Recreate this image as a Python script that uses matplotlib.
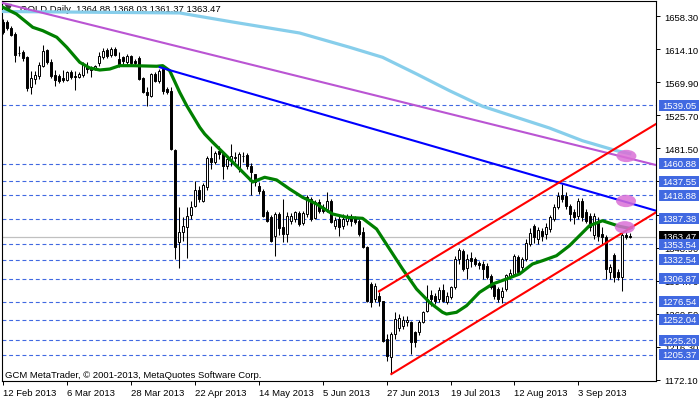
import matplotlib
matplotlib.use("Agg")
import matplotlib.pyplot as plt
import matplotlib.transforms as mtransforms
from matplotlib.patches import Ellipse, Rectangle

plt.rcParams['font.family'] = ['Liberation Sans', 'DejaVu Sans']

# daily OHLC, bar 0 = 12 Feb 2013
opens = [1650.6, 1650.6, 1642.6, 1634.6, 1609.2, 1610.5, 1603.8, 1563.7, 1574.4, 1578.4,
         1591.8, 1613.2, 1597.1, 1579.7, 1578.4, 1575.7, 1573.0, 1583.7, 1578.4, 1577.1,
         1579.7, 1591.8, 1589.1, 1589.1, 1595.8, 1603.8, 1613.2, 1606.5, 1614.5, 1601.1,
         1603.8, 1597.1, 1605.1, 1598.5, 1602.5, 1575.7, 1557.0, 1551.6, 1581.1, 1571.7,
         1587.7, 1561.0, 1558.3, 1479.4, 1356.3, 1369.7, 1376.4, 1392.4, 1404.5, 1425.9,
         1411.2, 1429.9, 1468.7, 1463.3, 1478.1, 1474.0, 1458.0, 1467.4, 1468.7, 1454.0,
         1471.4, 1472.7, 1458.0, 1447.3, 1431.2, 1424.6, 1396.4, 1389.8, 1364.3, 1393.8,
         1376.4, 1367.0, 1384.4, 1387.1, 1395.1, 1381.7, 1393.8, 1413.8, 1388.4, 1409.8,
         1403.1, 1400.5, 1411.2, 1377.7, 1387.1, 1377.7, 1384.4, 1389.8, 1388.4, 1384.4,
         1369.7, 1349.6, 1300.1, 1280.1, 1284.1, 1277.4, 1226.5, 1202.5, 1233.2, 1241.3,
         1243.9, 1249.3, 1249.3, 1235.9, 1235.9, 1249.3, 1264.0, 1285.4, 1284.1, 1280.1,
         1292.1, 1276.0, 1282.7, 1296.1, 1333.6, 1344.3, 1321.5, 1334.9, 1333.6, 1328.2,
         1326.9, 1324.2, 1310.8, 1298.8, 1293.4, 1282.7, 1293.4, 1309.5, 1313.5, 1336.3,
         1322.9, 1333.6, 1353.6, 1377.7, 1360.3, 1371.0, 1367.0, 1373.7, 1387.1, 1403.1,
         1419.2, 1417.8, 1404.5, 1396.4, 1391.1, 1411.2, 1396.4, 1391.1, 1365.7, 1384.4,
         1367.0, 1363.0, 1316.2, 1338.9, 1316.2, 1309.5, 1365.7, 1364.88]
highs = [1654.6, 1653.3, 1645.3, 1637.3, 1618.5, 1613.2, 1605.1, 1585.1, 1585.1, 1597.1,
         1619.9, 1614.5, 1601.1, 1586.4, 1581.1, 1586.4, 1585.1, 1586.4, 1585.1, 1583.7,
         1597.1, 1597.1, 1591.8, 1593.1, 1610.5, 1615.8, 1615.8, 1617.2, 1617.2, 1610.5,
         1605.1, 1607.8, 1606.5, 1601.1, 1605.1, 1577.1, 1563.7, 1582.4, 1583.7, 1587.7,
         1590.4, 1563.7, 1563.7, 1480.7, 1403.1, 1389.8, 1403.1, 1411.2, 1437.9, 1431.2,
         1435.3, 1471.4, 1484.7, 1478.1, 1484.7, 1476.7, 1471.4, 1487.4, 1476.7, 1476.7,
         1476.7, 1475.4, 1462.0, 1447.3, 1436.6, 1427.2, 1399.1, 1392.4, 1396.4, 1396.4,
         1413.8, 1396.4, 1395.1, 1397.8, 1397.8, 1397.8, 1419.2, 1416.5, 1412.5, 1413.8,
         1407.1, 1423.2, 1413.8, 1389.8, 1391.1, 1393.8, 1393.8, 1393.8, 1391.1, 1387.1,
         1376.4, 1351.0, 1302.8, 1301.5, 1289.4, 1277.4, 1233.2, 1235.9, 1262.7, 1260.0,
         1257.3, 1257.3, 1250.6, 1237.2, 1252.0, 1264.0, 1298.8, 1292.1, 1288.1, 1296.1,
         1300.1, 1289.4, 1297.5, 1337.6, 1348.3, 1346.9, 1340.3, 1343.0, 1336.3, 1330.9,
         1330.9, 1328.2, 1313.5, 1302.8, 1296.1, 1296.1, 1313.5, 1320.2, 1340.3, 1338.9,
         1336.3, 1360.3, 1375.0, 1380.4, 1376.4, 1375.0, 1381.7, 1392.4, 1407.1, 1423.2,
         1433.9, 1423.2, 1407.1, 1400.5, 1415.2, 1415.2, 1400.5, 1395.1, 1395.1, 1389.8,
         1376.4, 1365.7, 1326.9, 1341.6, 1320.2, 1368.3, 1369.7, 1368.03]
lows = [1634.6, 1639.9, 1631.9, 1597.1, 1605.1, 1598.5, 1558.3, 1554.3, 1567.7, 1574.4,
        1590.4, 1594.4, 1575.7, 1565.0, 1569.0, 1570.4, 1571.7, 1574.4, 1559.7, 1575.7,
        1577.1, 1582.4, 1577.1, 1586.4, 1591.8, 1601.1, 1602.5, 1603.8, 1605.1, 1590.4,
        1594.4, 1594.4, 1593.1, 1593.1, 1573.0, 1555.6, 1538.3, 1550.3, 1570.4, 1569.0,
        1554.3, 1554.3, 1479.4, 1333.6, 1321.5, 1357.7, 1334.9, 1387.1, 1403.1, 1409.8,
        1409.8, 1425.9, 1454.0, 1460.7, 1467.4, 1440.6, 1454.0, 1458.0, 1463.3, 1450.0,
        1463.3, 1454.0, 1419.2, 1431.2, 1420.5, 1389.8, 1383.1, 1356.3, 1337.6, 1365.7,
        1356.3, 1356.3, 1380.4, 1383.1, 1377.7, 1379.1, 1389.8, 1384.4, 1387.1, 1395.1,
        1395.1, 1396.4, 1381.7, 1373.7, 1364.3, 1373.7, 1379.1, 1377.7, 1380.4, 1364.3,
        1348.3, 1276.0, 1269.4, 1276.0, 1270.7, 1222.5, 1197.1, 1179.7, 1226.5, 1237.2,
        1239.9, 1243.9, 1206.5, 1215.8, 1231.9, 1247.9, 1262.7, 1270.7, 1273.4, 1276.0,
        1276.0, 1273.4, 1280.1, 1293.4, 1326.9, 1317.5, 1306.8, 1322.9, 1324.2, 1320.2,
        1306.8, 1306.8, 1293.4, 1280.1, 1276.0, 1274.7, 1290.8, 1306.8, 1310.8, 1313.5,
        1317.5, 1330.9, 1351.0, 1355.0, 1353.6, 1357.7, 1360.3, 1369.7, 1384.4, 1400.5,
        1409.8, 1400.5, 1384.4, 1380.4, 1387.1, 1384.4, 1381.7, 1371.0, 1360.3, 1357.7,
        1353.6, 1306.8, 1306.8, 1302.8, 1305.5, 1290.8, 1360.3, 1361.37]
closes = [1637.3, 1642.6, 1633.2, 1606.5, 1608.6, 1602.5, 1562.3, 1575.7, 1579.7, 1593.1,
          1611.8, 1597.1, 1578.4, 1573.0, 1571.7, 1573.0, 1583.7, 1577.1, 1577.7, 1581.1,
          1594.4, 1587.7, 1586.4, 1591.8, 1605.1, 1611.8, 1605.1, 1614.5, 1606.5, 1594.4,
          1598.5, 1605.1, 1595.8, 1595.8, 1574.4, 1557.0, 1553.0, 1581.1, 1571.7, 1585.1,
          1558.3, 1557.0, 1480.7, 1349.6, 1369.7, 1377.7, 1391.1, 1403.1, 1425.9, 1413.8,
          1432.6, 1468.7, 1463.3, 1475.4, 1474.0, 1458.0, 1467.4, 1471.4, 1470.0, 1474.0,
          1470.7, 1458.0, 1450.0, 1436.6, 1424.6, 1391.1, 1384.4, 1357.7, 1393.8, 1375.0,
          1367.0, 1391.1, 1391.1, 1396.4, 1380.4, 1395.1, 1416.5, 1387.1, 1409.8, 1397.8,
          1397.8, 1411.2, 1383.1, 1385.7, 1376.4, 1387.1, 1389.8, 1384.4, 1383.1, 1367.0,
          1349.6, 1277.4, 1276.0, 1297.5, 1277.4, 1223.9, 1203.8, 1233.2, 1253.3, 1254.6,
          1252.0, 1252.0, 1222.5, 1222.5, 1249.3, 1262.7, 1280.1, 1280.1, 1277.4, 1292.1,
          1277.4, 1284.1, 1296.1, 1333.6, 1345.6, 1320.2, 1333.6, 1330.9, 1326.9, 1325.5,
          1320.2, 1309.5, 1296.1, 1284.1, 1280.1, 1290.8, 1312.2, 1314.8, 1337.6, 1316.2,
          1333.6, 1355.0, 1368.3, 1363.0, 1372.4, 1364.3, 1376.4, 1389.8, 1403.1, 1417.8,
          1413.8, 1404.5, 1393.8, 1389.8, 1411.2, 1389.8, 1384.4, 1376.4, 1391.1, 1364.3,
          1363.0, 1320.2, 1322.9, 1309.5, 1309.5, 1365.7, 1363.0, 1363.47]

# moving averages (bar index, price)
ma_fast_x = [-0.75, 3.4, 7.5, 10, 13.5, 16, 19.25, 21.75, 24.25, 26.75, 29.25, 32.5, 38.5, 40,
             41.75, 44.25, 46, 49.25, 50.5, 52.5, 55.9, 59.25, 61.75, 62.5, 65.5, 68.5, 71.75,
             75, 78.5, 82.5, 86, 90, 93.5, 96.75, 100, 103.5, 106.75, 110, 111, 113.5, 116,
             119.25, 122.5, 126, 129.25, 132.5, 135, 138.5, 141.75, 144.25, 146.75, 150,
             152.5, 154.25, 156.75, 157.5]
ma_fast_y = [1672.4, 1661.3, 1643.5, 1639.0, 1630.2, 1616.8, 1596.7, 1589.1, 1586.4, 1587.7,
             1592.2, 1592.2, 1591.4, 1592.2, 1585.5, 1556.6, 1538.7, 1509.8, 1500.8, 1489.7,
             1471.8, 1454.0, 1440.6, 1436.6, 1442.9, 1439.3, 1427.2, 1416.1, 1407.1, 1393.8,
             1389.4, 1388.0, 1373.7, 1346.9, 1320.2, 1293.4, 1275.6, 1262.3, 1260.0, 1262.3,
             1271.1, 1289.0, 1300.1, 1306.8, 1313.5, 1326.9, 1331.3, 1338.0, 1351.4, 1364.7,
             1378.1, 1384.8, 1380.4, 1377.3, 1374.6, 1376.4]
ma_slow_x = [-0.75, 44.25, 57.5, 74.25, 86.75, 95, 103.5, 111.75, 120, 128.5, 136.75, 145,
             153.5, 157.25]
ma_slow_y = [1664.7, 1662.7, 1650.6, 1635.9, 1616.8, 1603.4, 1581.1, 1558.7, 1537.9, 1523.1,
             1508.8, 1491.8, 1478.5, 1474.0]

# trend lines (start bar, end bar), (start price, end price)
purple_line = ([-0.75, 163.4], [1677.0, 1459.3])
blue_line = ([39.25, 163.4], [1590.1, 1398.2])
red_upper = ([94.1, 163.4], [1290.4, 1514.2])
red_lower = ([97.2, 163.4], [1179.7, 1396.0])

levels = [1539.05, 1460.88, 1437.55, 1418.88, 1387.38, 1353.54, 1332.54, 1306.87,
          1276.54, 1252.04, 1225.20, 1205.37]
last_price = 1363.47

marks_x = [156, 155.9, 155.6]
marks_y = [1471.4, 1411.2, 1376.0]

y_ticks = [1658.30, 1614.10, 1569.90, 1525.70, 1481.50, 1437.30, 1393.10, 1348.90,
           1304.70, 1260.50, 1216.30, 1172.10]
date_ticks = [0, 16, 32, 48, 64, 80, 96, 112, 128, 144]
date_labels = ['12 Feb 2013', '6 Mar 2013', '28 Mar 2013', '22 Apr 2013', '14 May 2013',
               '5 Jun 2013', '27 Jun 2013', '19 Jul 2013', '12 Aug 2013', '3 Sep 2013']

fs = 6.8
fig = plt.figure(figsize=(7, 4.02), dpi=100)
ax = fig.add_axes([2 / 700, 20 / 402, 654 / 700, 380 / 402])
ax.set_xlim(-0.2, 163.4)
ax.set_ylim(1170.4, 1678.7)

# levels
for lv in levels:
    ax.axhline(lv, color='#4169E1', lw=0.8, ls=(0, (3.5, 2.5)), zorder=1)
ax.axhline(last_price, color='#C0C0C0', lw=0.9, zorder=1)

# candles
n = len(opens)
idx = list(range(n))
ax.vlines(idx, lows, highs, color='black', lw=0.75, zorder=3)
bodies = [c - o for o, c in zip(opens, closes)]
colors = ['white' if c >= o else 'black' for o, c in zip(opens, closes)]
ax.bar(idx, bodies, bottom=opens, width=0.5, color=colors, edgecolor='black',
       linewidth=0.7, zorder=4)

ax.plot(ma_slow_x, ma_slow_y, color='#87CEEB', lw=2.3, zorder=5, solid_capstyle='butt')
ax.plot(ma_fast_x, ma_fast_y, color='#008000', lw=2.3, zorder=5, solid_capstyle='butt')
ax.plot(*purple_line, color='#BA55D3', lw=1.5, zorder=6)
ax.plot(*blue_line, color='#0000FF', lw=1.5, zorder=6)
ax.plot(*red_upper, color='#FF0000', lw=1.5, zorder=6)
ax.plot(*red_lower, color='#FF0000', lw=1.5, zorder=6)

for mx, my in zip(marks_x, marks_y):
    ax.add_patch(Ellipse((mx, my), 5.0, 16.5, facecolor='#DA70D6', edgecolor='none',
                         alpha=0.85, zorder=7))

# axes look
for sp in ax.spines.values():
    sp.set_linewidth(0.8)
ax.yaxis.tick_right()
ax.set_yticks(y_ticks, [f'{v:.2f}' for v in y_ticks])
ax.set_xticks(date_ticks, date_labels)
ax.tick_params(axis='y', direction='out', length=3, width=0.7, pad=3, labelsize=fs)
ax.tick_params(axis='x', direction='out', length=3, width=0.7, pad=2, labelsize=fs)
for lbl in ax.get_xticklabels():
    lbl.set_ha('left')

# price boxes on the right scale
trans = mtransforms.blended_transform_factory(ax.transAxes, ax.transData)
bx = (658.5 - 2) / 654
bw = 40 / 654
bh = 11 / 0.7475
tx = (662 - 2) / 654
ax.add_patch(Rectangle((bx, last_price - bh / 2), bw, bh, transform=trans,
                       facecolor='black', edgecolor='none', clip_on=False, zorder=10))
ax.text(tx, last_price, f'{last_price:.2f}', transform=trans, color='white', fontsize=fs,
        ha='left', va='center', clip_on=False, zorder=10.5)
for lv in levels:
    ax.add_patch(Rectangle((bx, lv - bh / 2), bw, bh, transform=trans,
                           facecolor='#4169E1', edgecolor='none', clip_on=False, zorder=11))
    ax.text(tx, lv, f'{lv:.2f}', transform=trans, color='white', fontsize=fs,
            ha='left', va='center', clip_on=False, zorder=11.5)

# header and footer
ax.plot([0.0095], [0.984], marker='v', color='#404040', markersize=4,
        transform=ax.transAxes, zorder=2, clip_on=False)
ax.text(0.0275, 0.979, 'GOLD,Daily  1364.88 1368.03 1361.37 1363.47',
        transform=ax.transAxes, fontsize=fs, ha='left', va='center', zorder=2)
ax.text(0.0046, 0.0184, 'GCM MetaTrader, © 2001-2013, MetaQuotes Software Corp.',
        transform=ax.transAxes, fontsize=fs, ha='left', va='center', zorder=2)

fig.savefig('out.png', dpi=100)
